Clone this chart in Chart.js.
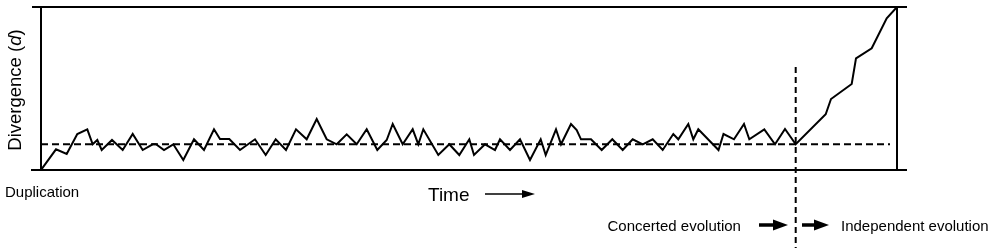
<!DOCTYPE html>
<html>
<head>
<meta charset="utf-8">
<script src="https://cdn.jsdelivr.net/npm/chart.js@4.4.1/dist/chart.umd.min.js"></script>
<style>
html,body{margin:0;padding:0;background:#fff;}
canvas{display:block;}
</style>
</head>
<body>
<canvas id="c" width="1000" height="252"></canvas>
<script>
// Time (arbitrary units) and divergence d (arbitrary units)
const timePoints = [0,15,25.7,36.3,46.3,51.7,56.3,60.7,71,81.7,91.7,101.7,111.7,115,123,132.3,142.3,153,163,173,179,188.3,199,214,224.7,234.7,245,255,265.7,275.7,285.7,295.7,305.7,315.7,325.7,336.3,345.7,351.7,361.7,371.7,377.3,382.3,397.3,408.3,418.3,428.3,433,444,454,459,469,479,489,499.7,504.7,515,520,530,535.7,540,550,560.7,571.3,581.7,591.7,601.7,611.7,621.7,632.3,637.3,647.3,652.3,657.3,677.5,682.5,693,703,708.3,723.3,734,744,754.7,784.7,790,810.7,815,830.7,845.7,856];
const divergence = [0,20.7,16,36,40.7,25.7,30,20,30,20,36,20,25.7,25.7,20,25.7,10,30.7,20,40.7,31,31,20,30.7,15,30.7,20,40.7,30.7,51,30.7,25.7,35.7,25.7,40.7,20,30,46,25.7,40.7,25.7,40.7,15,25.7,15,30.7,15,25.7,20,30.7,20,30.7,10,30.7,15,40.7,25.7,46,40,30.7,30.7,20,30.7,20,30.7,25.7,30.7,20,36,30.7,46,30.7,40.7,20,36,30.7,46,30.7,40.7,25.7,41,25.7,55.7,71,86,111.7,121.7,151.7,163];
const baselineLevel = 25.7;
const baselineRange = [0, 849];
const splitTime = 754.7;
const splitRange = [103, -78];
const xRange = [0, 856];
const yRange = [0, 163];

const yTitle = "Divergence (";
const yTitleItalic = "d";
const yTitleEnd = ")";
const startLabel = "Duplication";
const timeLabel = "Time";
const leftPhase = "Concerted evolution";
const rightPhase = "Independent evolution";

const FONT = '"Liberation Sans", Arial, Helvetica, sans-serif';

function arrow(ctx, x1, x2, y, shaft, headLen, headH) {
  ctx.save();
  ctx.strokeStyle = '#000';
  ctx.fillStyle = '#000';
  ctx.lineWidth = shaft;
  ctx.beginPath();
  ctx.moveTo(x1, y);
  ctx.lineTo(x2 - headLen + 1, y);
  ctx.stroke();
  ctx.beginPath();
  ctx.moveTo(x2, y);
  ctx.lineTo(x2 - headLen, y - headH / 2);
  ctx.lineTo(x2 - headLen, y + headH / 2);
  ctx.closePath();
  ctx.fill();
  ctx.restore();
}

const decor = {
  id: 'decor',
  beforeDatasetsDraw(chart) {
    const ctx = chart.ctx;
    const xs = chart.scales.x, ys = chart.scales.y;
    const l = xs.getPixelForValue(xRange[0]), r = xs.getPixelForValue(xRange[1]);
    const t = ys.getPixelForValue(yRange[1]), b = ys.getPixelForValue(yRange[0]);
    ctx.save();
    ctx.strokeStyle = '#000';
    ctx.lineWidth = 2;
    ctx.beginPath();
    ctx.moveTo(l - 9, t); ctx.lineTo(r + 10, t);
    ctx.moveTo(l - 10, b); ctx.lineTo(r + 10, b);
    ctx.moveTo(l, t); ctx.lineTo(l, b);
    ctx.moveTo(r, t); ctx.lineTo(r, b);
    ctx.stroke();
    ctx.restore();
  },
  afterDraw(chart) {
    const ctx = chart.ctx;
    ctx.save();
    ctx.fillStyle = '#000';
    ctx.textBaseline = 'alphabetic';
    ctx.textAlign = 'left';
    // y title rotated
    ctx.save();
    ctx.translate(21, 90);
    ctx.rotate(-Math.PI / 2);
    const nf = '18.5px ' + FONT, itf = 'italic 18.5px ' + FONT;
    ctx.font = nf; const w1 = ctx.measureText(yTitle).width; const w3 = ctx.measureText(yTitleEnd).width;
    ctx.font = itf; const w2 = ctx.measureText(yTitleItalic).width;
    let sx = -(w1 + w2 + w3) / 2;
    ctx.font = nf; ctx.fillText(yTitle, sx, 0);
    ctx.font = itf; ctx.fillText(yTitleItalic, sx + w1, 0);
    ctx.font = nf; ctx.fillText(yTitleEnd, sx + w1 + w2, 0);
    ctx.restore();

    ctx.font = '15px ' + FONT;
    ctx.fillText(startLabel, 5, 197);
    ctx.font = '19px ' + FONT;
    ctx.fillText(timeLabel, 428, 201);
    arrow(ctx, 485, 535, 194, 1.5, 13, 8);

    ctx.font = '15px ' + FONT;
    ctx.fillText(leftPhase, 607.5, 231);
    ctx.fillText(rightPhase, 841, 231);
    arrow(ctx, 759, 788, 225, 3.5, 15, 11);
    arrow(ctx, 802, 829, 225, 3.5, 15, 11);
    ctx.restore();
  }
};

new Chart(document.getElementById('c'), {
  type: 'scatter',
  data: {
    datasets: [
      {
        data: timePoints.map((t, i) => ({x: t, y: divergence[i]})),
        showLine: true, borderColor: '#000', borderWidth: 2, pointRadius: 0, tension: 0, fill: false
      },
      {
        data: baselineRange.map(t => ({x: t, y: baselineLevel})),
        showLine: true, borderColor: '#000', borderWidth: 2, borderDash: [7, 4], pointRadius: 0
      },
      {
        data: splitRange.map(v => ({x: splitTime, y: v})),
        showLine: true, borderColor: '#000', borderWidth: 2, borderDash: [6, 4], pointRadius: 0, clip: false
      }
    ]
  },
  options: {
    responsive: false,
    animation: false,
    devicePixelRatio: 1,
    layout: {padding: {left: 41, right: 103, top: 7, bottom: 82}},
    plugins: {legend: {display: false}, tooltip: {enabled: false}},
    scales: {
      x: {type: 'linear', min: xRange[0], max: xRange[1], display: false},
      y: {type: 'linear', min: yRange[0], max: yRange[1], display: false}
    }
  },
  plugins: [decor]
});
</script>
</body>
</html>
